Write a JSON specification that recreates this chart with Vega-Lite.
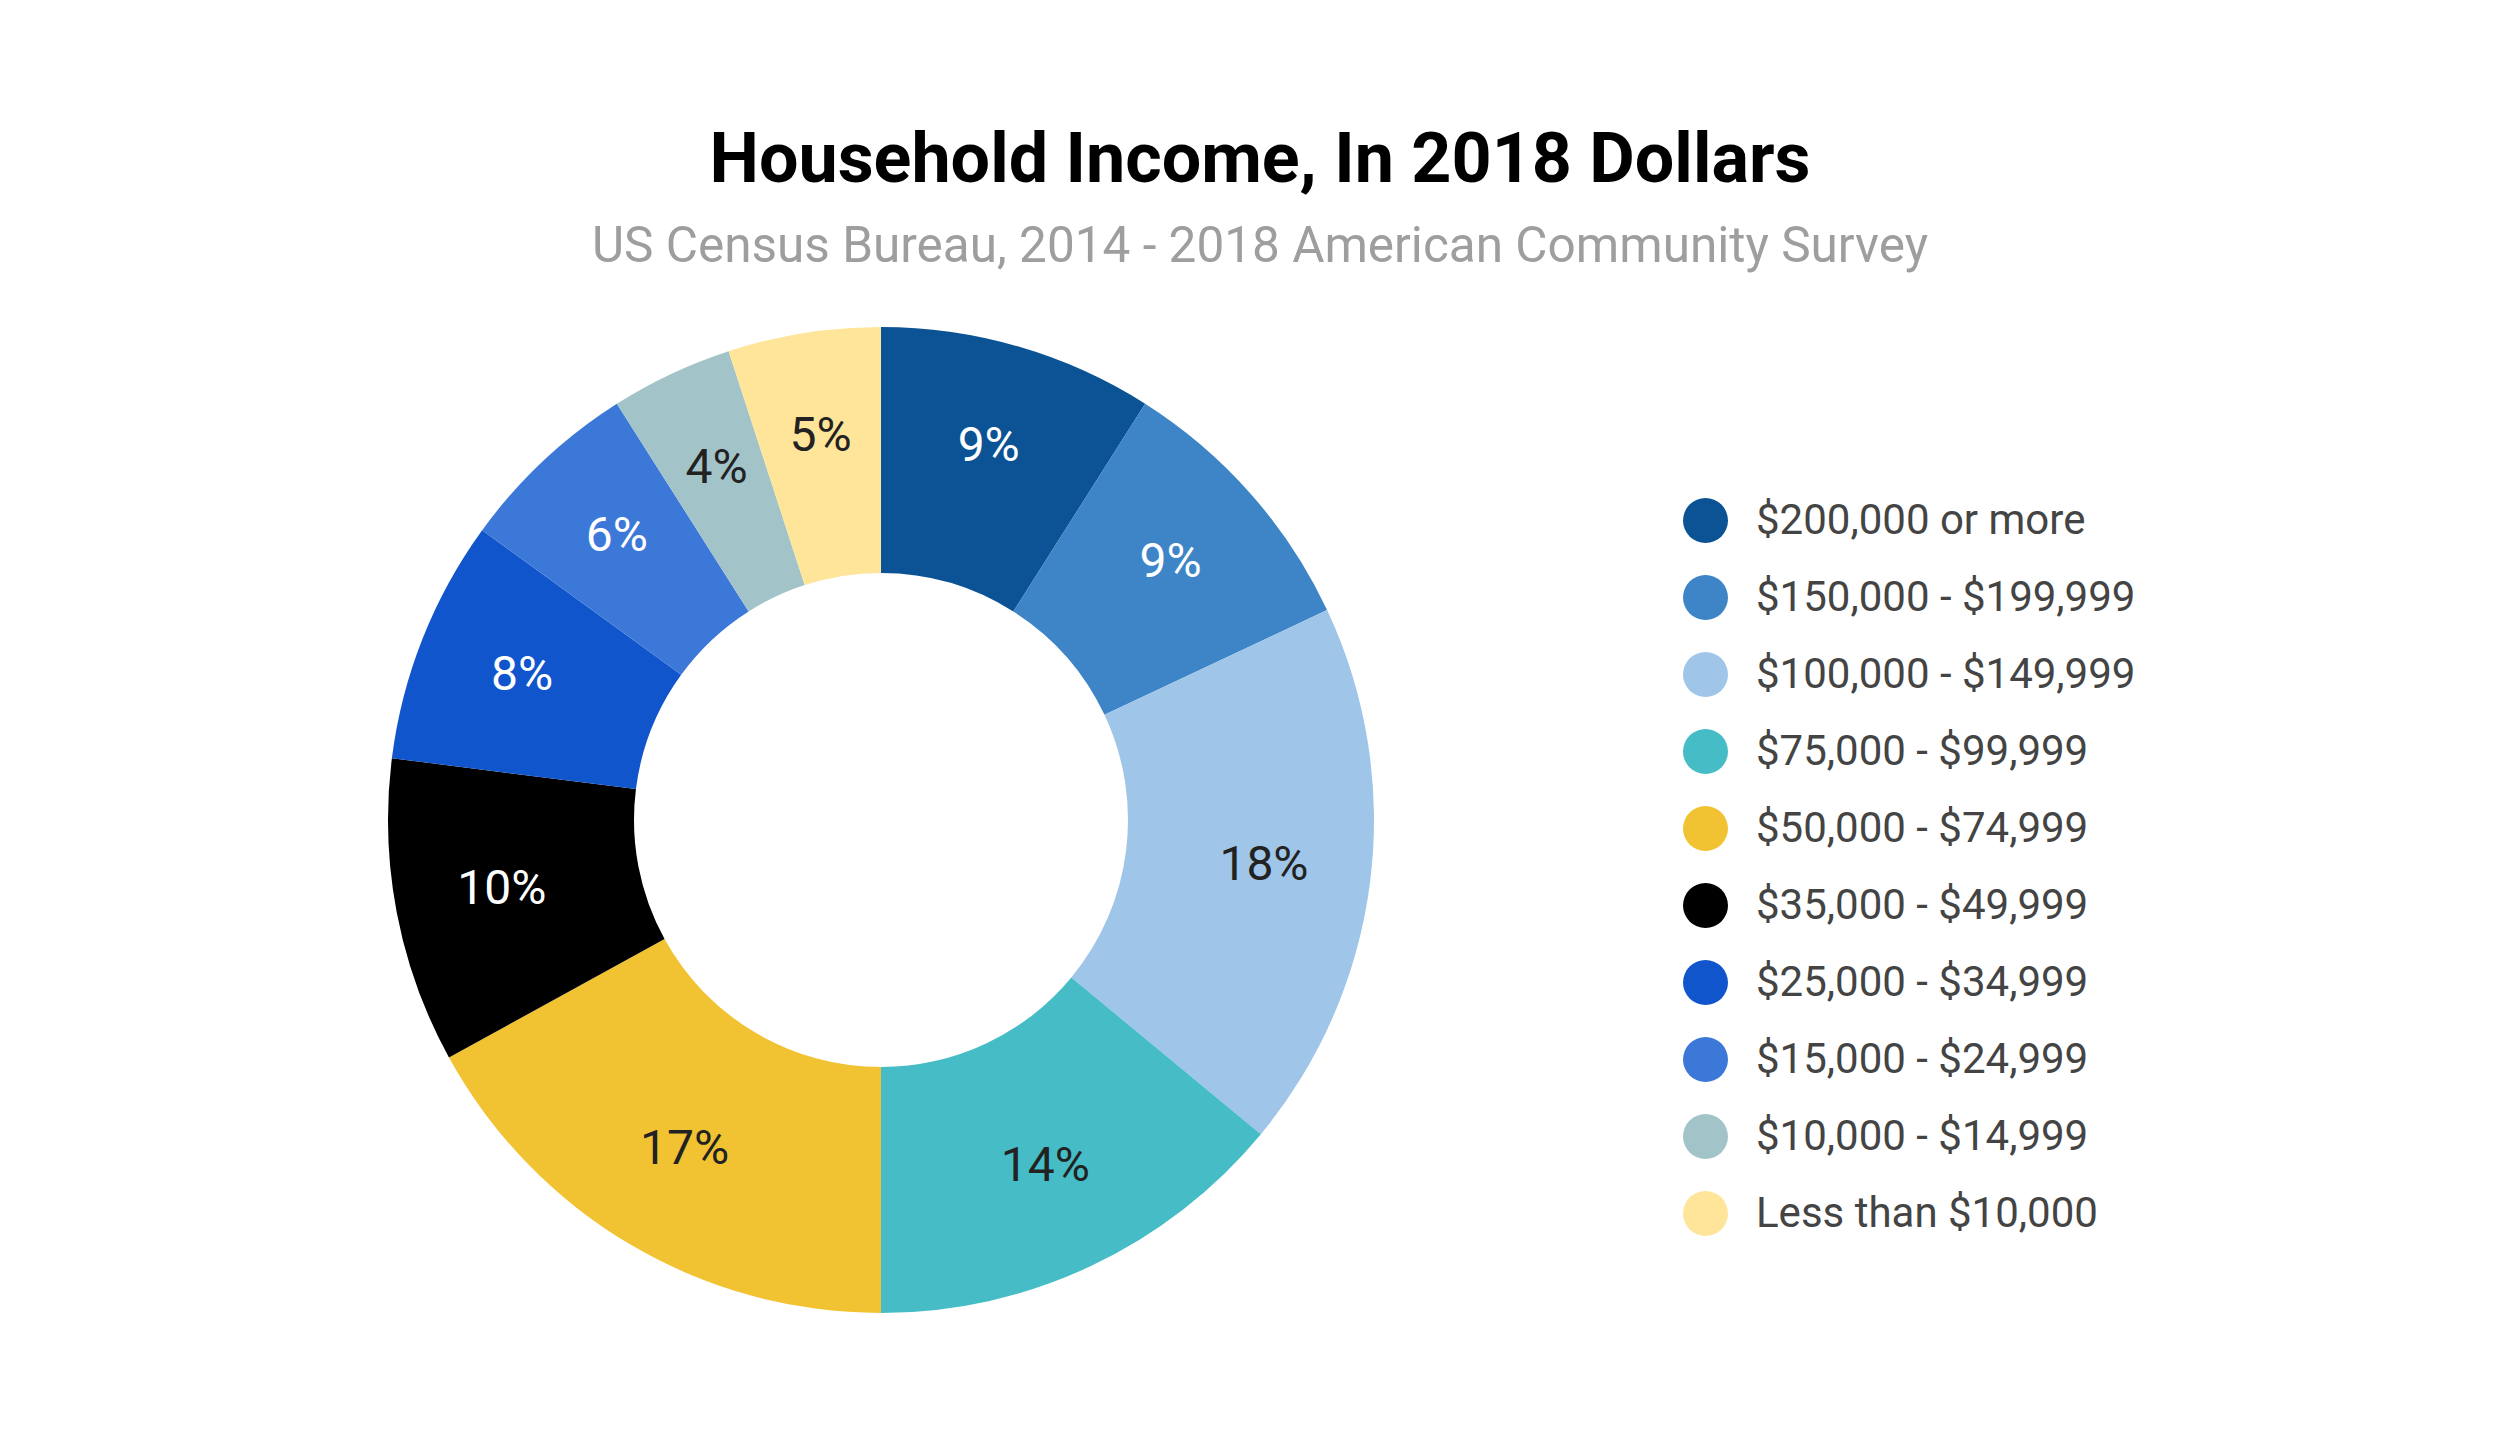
{
  "$schema": "https://vega.github.io/schema/vega-lite/v6.json",
  "width": 1000,
  "height": 1000,
  "autosize": {"type": "none"},
  "padding": {"left": 381, "top": 320, "right": 1119, "bottom": 130},
  "background": "white",
  "config": {"view": {"stroke": null}, "font": "Roboto"},
  "title": {
    "text": "Household Income, In 2018 Dollars",
    "subtitle": "US Census Bureau, 2014 - 2018 American Community Survey",
    "anchor": "middle",
    "dx": 379,
    "offset": 48,
    "font": "Roboto",
    "fontSize": 70,
    "fontWeight": "bold",
    "color": "#000000",
    "subtitleFont": "Roboto",
    "subtitleFontSize": 49.5,
    "subtitleColor": "#9e9e9e",
    "subtitlePadding": 26
  },
  "data": {
    "values": [
      {"bracket": "$200,000 or more", "share": 0.09, "rank": 1},
      {"bracket": "$150,000 - $199,999", "share": 0.09, "rank": 2},
      {"bracket": "$100,000 - $149,999", "share": 0.18, "rank": 3},
      {"bracket": "$75,000 - $99,999", "share": 0.14, "rank": 4},
      {"bracket": "$50,000 - $74,999", "share": 0.17, "rank": 5},
      {"bracket": "$35,000 - $49,999", "share": 0.10, "rank": 6},
      {"bracket": "$25,000 - $34,999", "share": 0.08, "rank": 7},
      {"bracket": "$15,000 - $24,999", "share": 0.06, "rank": 8},
      {"bracket": "$10,000 - $14,999", "share": 0.04, "rank": 9},
      {"bracket": "Less than $10,000", "share": 0.05, "rank": 10}
    ]
  },
  "encoding": {
    "theta": {"field": "share", "type": "quantitative", "stack": true},
    "order": {"field": "rank", "type": "quantitative", "sort": "ascending"}
  },
  "layer": [
    {
      "mark": {"type": "arc", "innerRadius": 247, "outerRadius": 493, "stroke": null},
      "encoding": {
        "color": {
          "field": "bracket",
          "type": "nominal",
          "scale": {
            "domain": ["$200,000 or more", "$150,000 - $199,999", "$100,000 - $149,999", "$75,000 - $99,999", "$50,000 - $74,999", "$35,000 - $49,999", "$25,000 - $34,999", "$15,000 - $24,999", "$10,000 - $14,999", "Less than $10,000"],
            "range": ["#0b5394", "#3d85c6", "#9fc5e8", "#46bdc6", "#f1c232", "#000000", "#1155cc", "#3c78d8", "#a2c4c9", "#ffe599"]
          },
          "legend": {
            "title": null,
            "orient": "none",
            "legendX": 1302,
            "legendY": 178,
            "padding": 0,
            "symbolType": "circle",
            "symbolSize": 2025,
            "symbolStrokeWidth": 0,
            "symbolOpacity": 1,
            "labelFont": "Roboto",
            "labelFontSize": 42,
            "labelColor": "#444444",
            "labelOffset": 28,
            "labelLimit": 0,
            "rowPadding": 32
          }
        }
      }
    },
    {
      "mark": {"type": "text", "radius": 386, "dy": -2, "font": "Roboto", "fontSize": 48},
      "encoding": {
        "text": {"field": "share", "type": "quantitative", "format": ".0%"},
        "color": {
          "condition": {"test": "indexof(['$200,000 or more', '$150,000 - $199,999', '$35,000 - $49,999', '$25,000 - $34,999', '$15,000 - $24,999'], datum.bracket) >= 0", "value": "#ffffff"},
          "value": "#222222"
        }
      }
    }
  ]
}
